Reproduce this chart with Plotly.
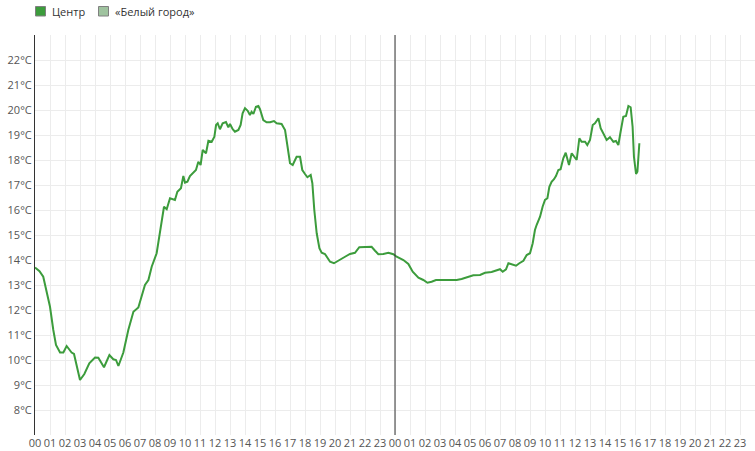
import plotly.graph_objects as go

# hours since start of first day
hours = [0.0, 0.3, 0.55, 0.73, 1.0, 1.22, 1.4, 1.67, 1.89, 2.11, 2.44, 2.6, 2.78, 3.0, 3.29, 3.62,
         4.0, 4.22, 4.6, 4.96, 5.22, 5.4, 5.56, 5.89, 6.22, 6.56, 6.89, 7.33, 7.56, 7.78, 8.11, 8.38,
         8.51, 8.6, 8.78, 9.0, 9.33, 9.49, 9.73, 9.89, 10.0, 10.16, 10.33, 10.56, 10.73, 10.89, 11.04,
         11.18, 11.4, 11.56, 11.78, 11.96, 12.07, 12.18, 12.33, 12.51, 12.73, 12.89, 13.0, 13.18, 13.33,
         13.56, 13.71, 13.84, 14.0, 14.18, 14.33, 14.44, 14.56, 14.73, 14.89, 15.0, 15.22, 15.44, 15.67,
         15.93, 16.11, 16.44, 16.67, 16.82, 17.0, 17.18, 17.44, 17.67, 17.82, 18.0, 18.16, 18.38, 18.49,
         18.62, 18.78, 18.96, 19.11, 19.33, 19.67, 19.93, 20.22, 20.67, 21.0, 21.33, 21.62, 22.0, 22.44,
         22.67, 22.89, 23.22, 23.56, 23.89, 24.11, 24.56, 24.89, 25.18, 25.56, 25.89, 26.16, 26.44, 26.73,
         27.22, 27.78, 28.11, 28.44, 28.89, 29.22, 29.67, 30.0, 30.44, 30.78, 31.0, 31.18, 31.4, 31.56,
         31.84, 32.07, 32.29, 32.56, 32.78, 33.0, 33.18, 33.33, 33.44, 33.67, 33.84, 34.0, 34.16, 34.29,
         34.44, 34.6, 34.73, 34.89, 35.04, 35.22, 35.38, 35.6, 35.78, 35.93, 36.11, 36.29, 36.44, 36.67,
         36.82, 37.0, 37.18, 37.33, 37.56, 37.71, 37.93, 38.11, 38.33, 38.56, 38.73, 38.89, 39.04, 39.22,
         39.4, 39.56, 39.71, 39.84, 39.93, 40.07, 40.16, 40.22, 40.29]

temp_center = [13.7, 13.55, 13.33, 12.88, 12.13, 11.2, 10.6, 10.3, 10.3, 10.56, 10.3, 10.24, 9.73, 9.2, 9.44, 9.87,
               10.1, 10.09, 9.71, 10.2, 10.03, 10.0, 9.76, 10.3, 11.2, 11.93, 12.1, 13.0, 13.2, 13.73, 14.27, 15.2,
               15.73, 16.13, 16.03, 16.47, 16.4, 16.73, 16.87, 17.36, 17.09, 17.13, 17.36, 17.49, 17.6, 17.93, 17.8,
               18.4, 18.27, 18.77, 18.73, 18.93, 19.4, 19.47, 19.23, 19.47, 19.52, 19.31, 19.44, 19.23, 19.13,
               19.2, 19.4, 19.87, 20.07, 19.97, 19.8, 19.93, 19.84, 20.13, 20.16, 20.03, 19.6, 19.51, 19.51,
               19.56, 19.47, 19.44, 19.2, 18.6, 17.87, 17.8, 18.13, 18.13, 17.6, 17.44, 17.31, 17.4, 17.07,
               16.0, 15.07, 14.47, 14.29, 14.24, 13.93, 13.87, 13.96, 14.13, 14.24, 14.29, 14.51, 14.51, 14.53,
               14.37, 14.23, 14.24, 14.29, 14.23, 14.13, 14.0, 13.84, 13.53, 13.29, 13.2, 13.09, 13.13, 13.2,
               13.2, 13.2, 13.2, 13.24, 13.31, 13.39, 13.4, 13.49, 13.52, 13.57, 13.63, 13.53, 13.63, 13.87,
               13.8, 13.77, 13.87, 13.97, 14.2, 14.27, 14.67, 15.2, 15.4, 15.73, 16.13, 16.4, 16.47, 16.93,
               17.13, 17.23, 17.36, 17.6, 17.63, 18.07, 18.29, 17.8, 18.27, 18.13, 18.0, 18.87, 18.73, 18.73,
               18.6, 18.8, 19.4, 19.47, 19.67, 19.27, 19.0, 18.8, 18.91, 18.73, 18.76, 18.6, 19.13, 19.73,
               19.76, 20.16, 20.11, 19.33, 18.13, 17.44, 17.53, 18.27, 18.67]

series_names = ["Центр", "«Белый город»"]
series_colors = ["#3c9c3c", "#9fc39f"]

hour_labels = ["%02d" % h for h in range(24)] * 2
tick_hours = list(range(48))
temp_ticks = list(range(8, 23))
temp_labels = ["%d°C" % t for t in temp_ticks]

W, H = 755, 451
ML, MR, MT, MB = 35, 0, 35, 16
PW, PH = W - ML - MR, H - MT - MB


def px_x(px):
    return (px - ML) / PW


def px_y(py):
    return (H - MB - py) / PH


fig = go.Figure()
fig.add_trace(go.Scatter(x=hours, y=temp_center, mode="lines", name=series_names[0],
                         line=dict(color=series_colors[0], width=2),
                         showlegend=False, hoverinfo="x+y"))

fig.add_shape(type="line", xref="x", yref="paper", x0=24, x1=24, y0=0, y1=1,
              line=dict(color="#333", width=1))

# legend (drawn in the top margin)
legend_sq_left = [35.5, 98.5]
legend_txt_left = [50, 113]
for name, col, sq, tx in zip(series_names, series_colors, legend_sq_left, legend_txt_left):
    fig.add_shape(type="rect", xref="paper", yref="paper",
                  x0=px_x(sq), x1=px_x(sq + 10), y0=px_y(16), y1=px_y(6.5),
                  fillcolor=col, line=dict(color="#808080", width=1))
    fig.add_annotation(xref="paper", yref="paper", x=px_x(tx), y=px_y(11.5),
                       xanchor="left", yanchor="middle", showarrow=False,
                       text=name, font=dict(size=11, color="#333"))

fig.update_layout(
    width=W, height=H,
    margin=dict(l=ML, r=MR, t=MT, b=MB, autoexpand=False),
    paper_bgcolor="white", plot_bgcolor="white",
    font=dict(family="Open Sans", size=11, color="#555"),
    showlegend=False,
    xaxis=dict(range=[0, 48], tickmode="array", tickvals=tick_hours, ticktext=hour_labels,
               showgrid=True, gridcolor="#ececec", gridwidth=1, zeroline=False,
               showline=False, ticks="", tickfont=dict(size=11, color="#555"),
               automargin=False, fixedrange=True),
    yaxis=dict(range=[7, 23], tickmode="array", tickvals=temp_ticks, ticktext=temp_labels,
               showgrid=True, gridcolor="#ececec", gridwidth=1, zeroline=False,
               showline=True, linecolor="#333", linewidth=1, ticks="",
               tickfont=dict(size=11, color="#555"), automargin=False, fixedrange=True),
)

fig.write_html("out.html", config={"displayModeBar": False},
               post_script="document.body.style.margin='0';document.body.style.overflow='hidden';")
